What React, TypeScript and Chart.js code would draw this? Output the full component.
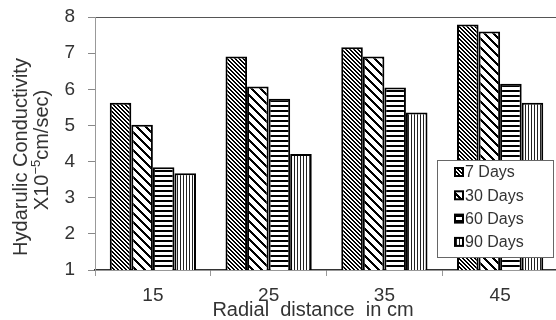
import React, { useEffect, useRef } from "react";
import { Chart, registerables } from "chart.js";

Chart.register(...registerables);

const categories = ["15", "25", "35", "45"];
const seriesLabels = ["7 Days", "30 Days", "60 Days", "90 Days"];
const days7 = [5.63, 6.91, 7.16, 7.79];
const days30 = [5.02, 6.08, 6.91, 7.6];
const days60 = [3.84, 5.74, 6.05, 6.15];
const days90 = [3.68, 4.21, 5.36, 5.63];
const yMin = 1;
const yMax = 8;
const xTitle = "Radial  distance  in cm";
const yTitle1 = "Hydarulic Conductivity";
const yTitle2a = "X10";
const yTitle2sup = "\u22125";
const yTitle2b = "cm/sec)";

type Kind = "diagThin" | "diagWide" | "horiz" | "vert";
const kinds: Kind[] = ["diagThin", "diagWide", "horiz", "vert"];

function makePattern(kind: Kind): CanvasPattern | string {
  const c = document.createElement("canvas");
  let s = 4;
  let w = 2;
  if (kind === "diagWide") { s = 9; w = 3; }
  if (kind === "horiz") { s = 5; w = 2; }
  if (kind === "vert") { s = 3; w = 1; }
  c.width = s;
  c.height = s;
  const g = c.getContext("2d");
  if (!g) return "#fff";
  g.fillStyle = "#fff";
  g.fillRect(0, 0, s, s);
  for (let y = 0; y < s; y++) {
    for (let x = 0; x < s; x++) {
      let on = false;
      if (kind === "diagThin" || kind === "diagWide") on = (((x - y) % s) + s) % s < w;
      else if (kind === "horiz") on = y < w;
      else on = x < w;
      if (on) {
        g.fillStyle = kind === "vert" ? "#222" : "#000";
        g.fillRect(x, y, 1, 1);
      }
    }
  }
  const p = g.createPattern(c, "repeat");
  return p || "#000";
}

const overlayPlugin = {
  id: "overlay",
  afterDraw(chart: any) {
    const ctx = chart.ctx as CanvasRenderingContext2D;
    const fam = '"Liberation Sans", Arial, sans-serif';
    ctx.save();
    ctx.fillStyle = "#333";
    ctx.font = `20px ${fam}`;
    ctx.textAlign = "center";
    ctx.textBaseline = "middle";
    ctx.fillText(xTitle, 313, 310);
    ctx.save();
    ctx.translate(21, 157);
    ctx.rotate(-Math.PI / 2);
    ctx.fillText(yTitle1, 0, 0);
    ctx.restore();
    ctx.save();
    ctx.translate(42, 150);
    ctx.rotate(-Math.PI / 2);
    ctx.font = `20px ${fam}`;
    const wa = ctx.measureText(yTitle2a).width;
    const wb = ctx.measureText(yTitle2b).width;
    ctx.font = `13px ${fam}`;
    const ws = ctx.measureText(yTitle2sup).width;
    const total = wa + ws + wb;
    let x = -total / 2;
    ctx.textAlign = "left";
    ctx.font = `20px ${fam}`;
    ctx.fillText(yTitle2a, x, 0);
    x += wa;
    ctx.font = `13px ${fam}`;
    ctx.fillText(yTitle2sup, x, -6);
    x += ws;
    ctx.font = `20px ${fam}`;
    ctx.fillText(yTitle2b, x, 0);
    ctx.restore();

    const lx = 437;
    const ly = 160;
    const lw = 116;
    const lh = 97;
    ctx.fillStyle = "#fff";
    ctx.fillRect(lx, ly, lw, lh);
    ctx.strokeStyle = "#666";
    ctx.lineWidth = 1;
    ctx.strokeRect(lx + 0.5, ly + 0.5, lw, lh);
    ctx.font = `16px ${fam}`;
    ctx.textAlign = "left";
    ctx.textBaseline = "middle";
    const ds = chart.data.datasets;
    for (let i = 0; i < ds.length; i++) {
      const cy = ly + 12 + i * 23.3;
      ctx.fillStyle = "#000";
      ctx.fillRect(454, cy - 5, 10, 10);
      ctx.fillStyle = ds[i].backgroundColor;
      ctx.fillRect(456, cy - 3, 6, 6);
      ctx.fillStyle = "#333";
      ctx.fillText(ds[i].label, 465, cy + 1);
    }
    ctx.restore();
  },
};

export default function App() {
  const ref = useRef<HTMLCanvasElement | null>(null);
  useEffect(() => {
    const canvas = ref.current;
    if (!canvas) return;
    const series = [days7, days30, days60, days90];
    const chart = new Chart(canvas, {
      type: "bar",
      data: {
        labels: categories,
        datasets: series.map((d, i) => ({
          label: seriesLabels[i],
          data: d,
          backgroundColor: makePattern(kinds[i]) as any,
          borderColor: "#000",
          borderWidth: 2,
          borderSkipped: false,
          barPercentage: 1,
          categoryPercentage: 0.745,
        })),
      },
      options: {
        responsive: false,
        devicePixelRatio: 1,
        animation: false,
        layout: { padding: { left: 0, right: 2, top: 17, bottom: 0 } },
        plugins: {
          legend: { display: false },
          tooltip: { enabled: false },
        },
        scales: {
          x: {
            afterFit: (s: any) => {
              s.height = 50;
              s.paddingLeft = 0;
              s.paddingRight = 0;
            },
            grid: {
              offset: true,
              drawOnChartArea: false,
              tickLength: 6,
              tickColor: "#999",
            },
            border: { color: "#333", width: 1.5 },
            ticks: {
              color: "#333",
              padding: 8,
              font: { family: '"Liberation Sans", Arial, sans-serif', size: 19 },
            },
          },
          y: {
            min: yMin,
            max: yMax,
            afterFit: (s: any) => {
              s.width = 95;
              s.paddingTop = 0;
              s.paddingBottom = 0;
            },
            grid: {
              drawOnChartArea: true,
              color: (c: any) => (c.tick && c.tick.value === yMax ? "#555" : "rgba(0,0,0,0)"),
              tickColor: "#888",
              tickLength: 7,
            },
            border: { color: "#999", width: 1 },
            ticks: {
              stepSize: 1,
              color: "#333",
              padding: 13,
              font: { family: '"Liberation Sans", Arial, sans-serif', size: 19 },
            },
          },
        },
      },
      plugins: [overlayPlugin],
    });
    return () => chart.destroy();
  }, []);
  return (
    <div
      style={{
        position: "absolute",
        left: 0,
        top: 0,
        width: 556,
        height: 320,
        overflow: "hidden",
        background: "#fff",
      }}
    >
      <canvas ref={ref} width={560} height={320} style={{ display: "block" }} />
    </div>
  );
}
